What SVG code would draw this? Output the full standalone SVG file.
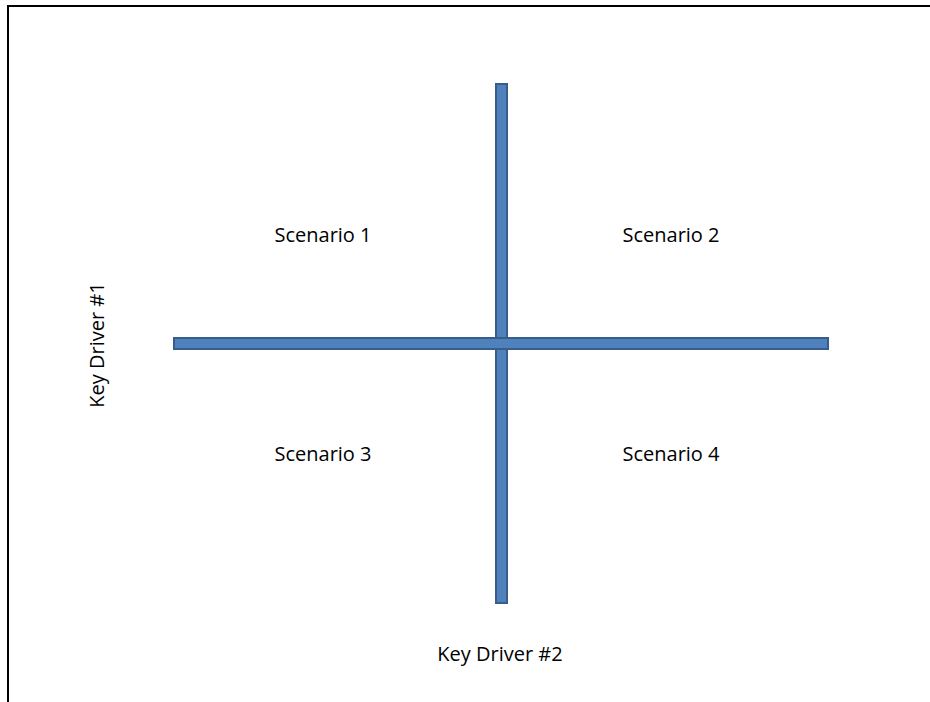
<svg xmlns="http://www.w3.org/2000/svg" width="930" height="702" viewBox="0 0 930 702">
<style>
.bar{fill:#4F81BD;stroke:#385D8A;stroke-width:2}
.t{font-family:"Open Sans","Liberation Sans",sans-serif;font-size:20px;fill:#000;text-anchor:middle}
</style>
<rect width="930" height="702" fill="#fff"/>
<g id="frame"><path d="M8 702 V6 H930" fill="none" stroke="#000" stroke-width="2"/></g>
<g id="connectors">
<rect class="bar" x="496" y="84" width="11" height="519"/>
<rect class="bar" x="174" y="338" width="654" height="11"/>
<rect x="497" y="339" width="9" height="9" fill="#4F81BD"/>
</g>
<g id="s1"><text class="t" x="323" y="242">Scenario 1</text></g>
<g id="s2"><text class="t" x="671" y="242">Scenario 2</text></g>
<g id="s3"><text class="t" x="323" y="461">Scenario 3</text></g>
<g id="s4"><text class="t" x="671" y="461">Scenario 4</text></g>
<g id="kd1"><text class="t" transform="translate(104 345) rotate(-90)">Key Driver #1</text></g>
<g id="kd2"><text class="t" x="500" y="661">Key Driver #2</text></g>
</svg>
